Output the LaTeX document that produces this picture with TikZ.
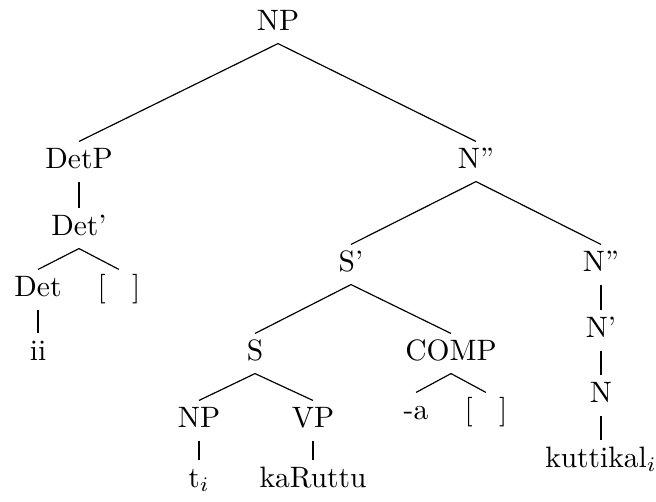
\documentclass[tikz,border=0pt]{standalone}
\usepackage{fontspec}
\begin{document}
\begin{tikzpicture}[x=0.339pt,y=-0.339pt,
  lab/.style={anchor=base,inner sep=0pt,text height=8.8pt,text depth=4.4pt},
  branch/.style={line width=0.4pt}]
\useasboundingbox (0,0) rectangle (656,501);
% labels, placed on their baselines
\node[lab] (np)     at (278,30)  {NP};
\node[lab] (detp)   at (79,168)  {DetP};
\node[lab] (nbarA)  at (476,168) {N''};
\node[lab] (detbar) at (79,235)  {Det'};
\node[lab] (det)    at (38,296)  {Det};
\node[lab] (gapA)   at (119,296) {[\hspace{0.9em}]};
\node[lab] (ii)     at (38,360)  {ii};
\node[lab] (sbar)   at (351,271) {S'};
\node[lab] (nbarB)  at (601,271) {N''};
\node[lab] (s)      at (255,360) {S};
\node[lab] (comp)   at (451,360) {COMP};
\node[lab] (nbar)   at (601,337) {N'};
\node[lab] (n)      at (601,402) {N};
\node[lab] (npB)    at (199,427) {NP};
\node[lab] (vp)     at (313,427) {VP};
\node[lab] (suffix) at (416,419) {-a};
\node[lab] (gapB)   at (486,419) {[\hspace{0.9em}]};
\node[lab] (trace)  at (199,487) {t$_i$};
\node[lab] (verb)   at (313,487) {kaRuttu};
\node[lab] (noun)   at (601,467) {kuttikal$_i$};
% branches
\draw[branch] (np.south) -- (detp.north);
\draw[branch] (np.south) -- (nbarA.north);
\draw[branch] (detp.south) -- (detbar.north);
\draw[branch] (detbar.south) -- (det.north);
\draw[branch] (detbar.south) -- (gapA.north);
\draw[branch] (det.south) -- (ii.north);
\draw[branch] (nbarA.south) -- (sbar.north);
\draw[branch] (nbarA.south) -- (nbarB.north);
\draw[branch] (sbar.south) -- (s.north);
\draw[branch] (sbar.south) -- (comp.north);
\draw[branch] (s.south) -- (npB.north);
\draw[branch] (s.south) -- (vp.north);
\draw[branch] (npB.south) -- (trace.north);
\draw[branch] (vp.south) -- (verb.north);
\draw[branch] (comp.south) -- (suffix.north);
\draw[branch] (comp.south) -- (gapB.north);
\draw[branch] (nbarB.south) -- (nbar.north);
\draw[branch] (nbar.south) -- (n.north);
\draw[branch] (n.south) -- (noun.north);
\end{tikzpicture}
\end{document}
